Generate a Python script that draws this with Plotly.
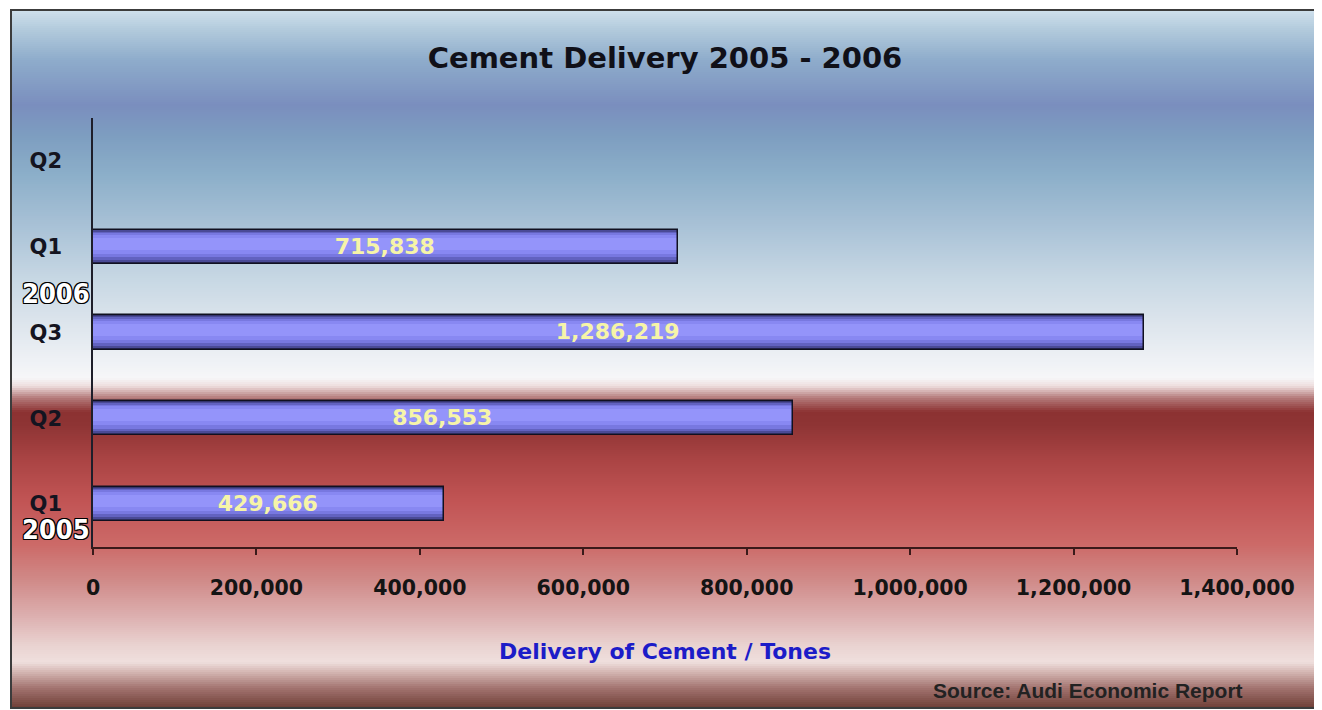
import plotly.graph_objects as go

# ---- data ----
quarters = ["Q1", "Q2", "Q3", "Q1", "Q2"]
years = ["2005", "2005", "2005", "2006", "2006"]
deliveries = [429666, 856553, 1286219, 715838, None]
x_ticks = [0, 200000, 400000, 600000, 800000, 1000000, 1200000, 1400000]
title_text = "Cement Delivery 2005 - 2006"
axis_title = "Delivery of Cement / Tones"
source_text = "Source: Audi Economic Report"

OFF = 8  # page body margin
W, H = 1322 - OFF, 710 - OFF
# plot area in reference-screen pixels
L, R, T, B = 93 - OFF, 1237 - OFF, 118 - OFF, 547 - OFF
pos = list(range(len(quarters)))

fig = go.Figure()

# cylinder-like shading via overlaid bars
layers = [
    (0.40, 0.0, "#34346e"),
    (0.37, 0.005, "#4a4a96"),
    (0.33, 0.012, "#6262c0"),
    (0.28, 0.02, "#7878e0"),
    (0.22, 0.028, "#8888f2"),
    (0.14, 0.034, "#9494fa"),
]
for w, sh, col in layers:
    fig.add_trace(go.Bar(
        y=pos, x=deliveries, orientation="h", width=w,
        offset=-w / 2 + sh, marker=dict(color=col, line=dict(width=0)),
        hoverinfo="skip", showlegend=False,
    ))
# outline + labels
fig.add_trace(go.Bar(
    y=pos, x=deliveries, orientation="h", width=0.40,
    marker=dict(color="rgba(0,0,0,0)", line=dict(color="#101020", width=1.5)),
    texttemplate="%{x:,}", textposition="inside", insidetextanchor="middle",
    constraintext="none", textangle=0,
    textfont=dict(family="DejaVu Sans", size=22, color="#f6f4a8", weight="bold"),
    showlegend=False,
))

# background gradient (reference-screen y coordinates)
stops = [
    (10, "#cfe0ec"), (30, "#b2cadc"), (60, "#8eaccb"), (105, "#7a8ebe"),
    (135, "#7d9dc0"), (175, "#8cafc9"), (225, "#a8c1d6"), (280, "#c8d8e4"),
    (330, "#e0e7ee"), (360, "#eef1f5"), (378, "#f6f6f8"), (386, "#eedede"),
    (398, "#b47a7a"), (412, "#8c3232"), (425, "#8e3434"), (460, "#aa4444"),
    (500, "#c15454"), (545, "#cc6a68"), (580, "#d08a88"), (615, "#dcaeae"),
    (645, "#e9d2d0"), (662, "#efdfdd"), (672, "#d4b6b2"), (688, "#a37470"),
    (708, "#6e3e36"),
]


def hex2rgb(h):
    return tuple(int(h[i:i + 2], 16) for i in (1, 3, 5))


def color_at(py):
    if py <= stops[0][0]:
        return hex2rgb(stops[0][1])
    for (y0, c0), (y1, c1) in zip(stops, stops[1:]):
        if y0 <= py <= y1:
            t = (py - y0) / (y1 - y0)
            a, b = hex2rgb(c0), hex2rgb(c1)
            return tuple(round(a[i] + (b[i] - a[i]) * t) for i in range(3))
    return hex2rgb(stops[-1][1])


def py_(ref_y):  # reference screen y -> paper y
    return (B - (ref_y - OFF)) / (B - T)


def px_(ref_x):  # reference screen x -> paper x
    return ((ref_x - OFF) - L) / (R - L)


shapes = []
step = 2
for yy in range(10, 708, step):
    r, g, b = color_at(yy + step / 2)
    shapes.append(dict(
        type="rect", xref="paper", yref="paper", layer="below",
        x0=px_(11), x1=px_(1317), y0=py_(yy + step), y1=py_(yy),
        fillcolor=f"rgb({r},{g},{b})", line=dict(width=0),
    ))
shapes.append(dict(
    type="rect", xref="paper", yref="paper", layer="above",
    x0=px_(11), x1=px_(1317), y0=py_(708), y1=py_(10),
    fillcolor="rgba(0,0,0,0)", line=dict(color="#3c3c3c", width=2),
))

outline = ("-1px -1px 0 #000, 1px -1px 0 #000, -1px 1px 0 #000, 1px 1px 0 #000, "
           "0 1px 0 #000, 0 -1px 0 #000, 1px 0 0 #000, -1px 0 0 #000")
year_font = dict(family="DejaVu Sans Condensed, Liberation Sans Narrow, sans-serif",
                 size=27, color="white", weight="bold", shadow=outline)

annotations = [
    dict(text="2006", xref="paper", yref="y", x=0, y=2.46, xshift=-37,
         xanchor="center", yanchor="middle", showarrow=False, font=year_font),
    dict(text="2005", xref="paper", yref="y", x=0, y=-0.30, xshift=-37,
         xanchor="center", yanchor="middle", showarrow=False, font=year_font),
    dict(text=axis_title, xref="paper", yref="paper", x=0.5, y=py_(651),
         xanchor="center", yanchor="middle", showarrow=False,
         font=dict(family="DejaVu Sans", size=22, color="#1c1cc8", weight="bold")),
    dict(text=source_text, xref="paper", yref="paper", x=px_(1245),
         y=py_(690), xanchor="right", yanchor="middle", showarrow=False,
         font=dict(family="Liberation Sans, Arial, sans-serif", size=21,
                   color="#222222", weight="bold")),
]

fig.update_layout(
    width=W, height=H,
    margin=dict(l=L, r=W - R, t=T, b=H - B, pad=0),
    paper_bgcolor="white", plot_bgcolor="rgba(0,0,0,0)",
    barmode="overlay", bargap=0,
    title=dict(text=title_text, x=0.5, xref="paper", xanchor="center",
               y=1 - (58 - OFF) / H, yanchor="middle",
               font=dict(family="DejaVu Sans", size=29, color="#101018", weight="bold")),
    shapes=shapes, annotations=annotations,
    showlegend=False,
)
fig.update_xaxes(
    range=[0, 1400000], tickvals=x_ticks,
    ticktext=[f"{v:,}" for v in x_ticks],
    showgrid=False, zeroline=False, showline=True, linecolor="#3a1a1a", linewidth=1.5,
    ticks="outside", ticklen=6, tickcolor="#3a1a1a", tickwidth=1.5,
    ticklabelstandoff=16,
    tickfont=dict(family="DejaVu Sans", size=20.5, color="#141414", weight="bold"),
)
fig.update_yaxes(
    range=[-0.5, 4.5], tickvals=pos, ticktext=quarters,
    showgrid=False, zeroline=False, showline=True, linecolor="#1e1e2a", linewidth=1.5,
    ticks="", ticklabelstandoff=25,
    tickfont=dict(family="DejaVu Sans", size=21, color="#141420", weight="bold"),
)

fig.write_html("out.html")
